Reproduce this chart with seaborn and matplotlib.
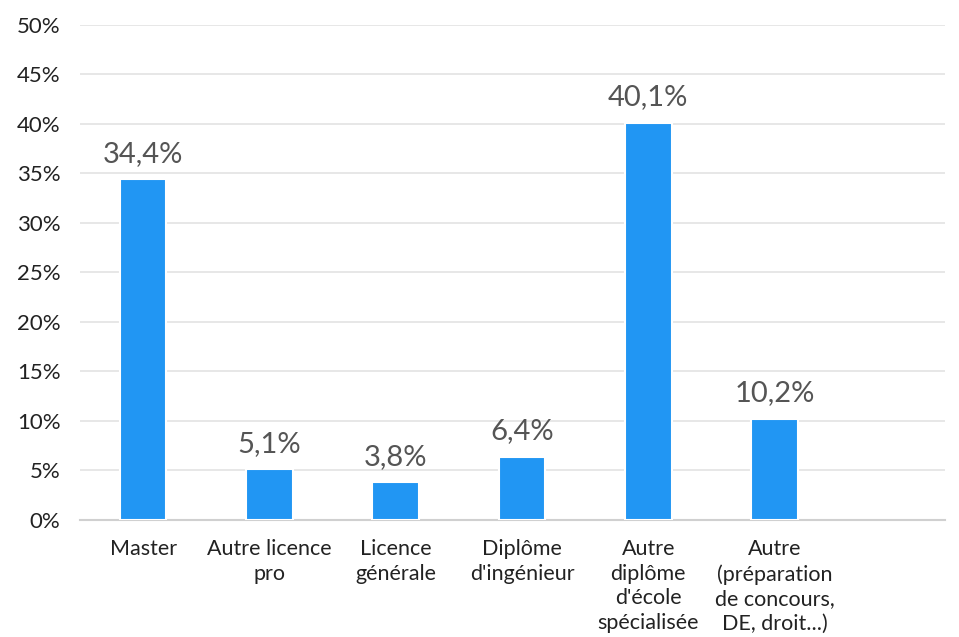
import matplotlib
matplotlib.use("Agg")
import matplotlib.pyplot as plt
from matplotlib.ticker import FixedLocator, PercentFormatter
import seaborn as sns
import pandas as pd

# Données
categories = ["Master", "Autre licence\npro", "Licence\ngénérale", "Diplôme\nd'ingénieur",
              "Autre\ndiplôme\nd'école\nspécialisée", "Autre\n(préparation\nde concours,\nDE, droit...)"]
values = [34.4, 5.1, 3.8, 6.4, 40.1, 10.2]
value_labels = ["34,4%", "5,1%", "3,8%", "6,4%", "40,1%", "10,2%"]
y_ticks = [0, 5, 10, 15, 20, 25, 30, 35, 40, 45, 50]

df = pd.DataFrame({"cat": categories, "val": values})

sns.set_style("white")
plt.rcParams["font.family"] = ["Lato", "DejaVu Sans"]

fig = plt.figure(figsize=(9.59, 6.37), dpi=100)
ax = fig.add_axes([0.0834, 0.1837, 0.9854 - 0.0834, 0.9608 - 0.1837])

sns.barplot(data=df, x="cat", y="val", color="#2196F3", saturation=1, width=0.37,
            edgecolor="white", linewidth=1.5, ax=ax, zorder=3)

for i, (v, lab) in enumerate(zip(values, value_labels)):
    ax.annotate(lab, (i, v), xytext=(0, 9), textcoords="offset points",
                ha="center", va="bottom", fontsize=21, color="#555555")

ax.set_xlim(-0.5, 6.35)
ax.set_ylim(0, 50)
ax.set_yticks(y_ticks)
ax.yaxis.set_major_formatter(PercentFormatter(decimals=0))
ax.grid(axis="y", color="#e3e3e3", linewidth=1.2, zorder=0)
ax.set_axisbelow(True)

ax.xaxis.set_minor_locator(FixedLocator([k - 0.5 for k in range(8)]))
ax.tick_params(axis="x", which="major", length=0, pad=14, labelsize=15.5, labelcolor="#222222")
ax.tick_params(axis="x", which="minor", length=8, width=1.2, color="#d0d0d0", direction="out")
ax.tick_params(axis="y", length=0, pad=14, labelsize=16, labelcolor="#222222")
for t in ax.get_xticklabels():
    t.set_linespacing(1.28)
for t in ax.get_yticklabels():
    t.set_horizontalalignment("right")

for s in ["top", "right", "left"]:
    ax.spines[s].set_visible(False)
ax.spines["bottom"].set_color("#d0d0d0")
ax.spines["bottom"].set_linewidth(1.5)
ax.set_xlabel("")
ax.set_ylabel("")

fig.savefig("out.png", dpi=100)
